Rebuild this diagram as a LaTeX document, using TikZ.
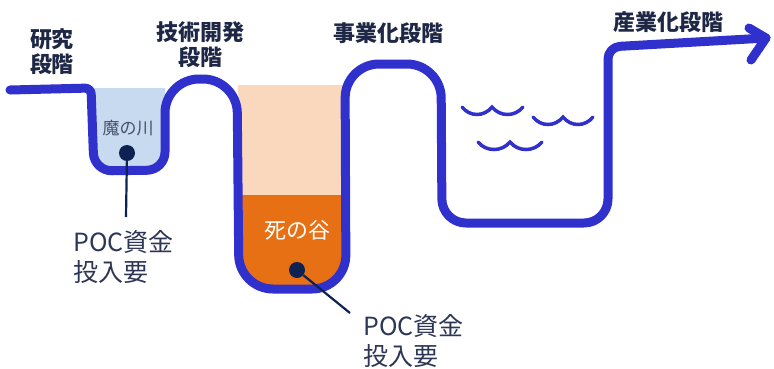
\documentclass[tikz,border=0pt]{standalone}
\usepackage{fontspec}
\setmainfont{Noto Sans CJK JP}
\definecolor{lineblue}{RGB}{48,48,205}
\definecolor{lightb}{RGB}{200,218,240}
\definecolor{peach}{RGB}{250,216,190}
\definecolor{deeporange}{RGB}{231,112,20}
\definecolor{dotnavy}{RGB}{14,34,82}
\definecolor{labeltext}{RGB}{30,40,70}
\definecolor{poctext}{RGB}{45,55,85}
\definecolor{rivertext}{RGB}{70,80,104}
\tikzset{
  curve/.style={draw=lineblue, line width=9pt, line cap=round, line join=round},
  wave/.style={draw=lineblue, line width=3.5pt, line cap=round},
  stage/.style={font=\fontsize{22}{25}\selectfont\bfseries, text=labeltext, align=center, inner sep=0pt},
  poc/.style={font=\fontsize{25}{30}\selectfont, text=poctext, align=left, inner sep=0pt, anchor=west},
  dotc/.style={circle, fill=dotnavy, minimum size=16pt, inner sep=0pt},
  stem/.style={draw=dotnavy, line width=2.2pt}
}
\begin{document}
\begin{tikzpicture}[x=1pt,y=-1pt]
\useasboundingbox[fill=white] (0,0) rectangle (774,368);
% fills
\begin{scope}
  \clip (80,88) rectangle (180,200);
  \fill[lightb, rounded corners=18pt] (92,40) -- (94,171) -- (165,170) -- (165,40) -- cycle;
\end{scope}
\begin{scope}
  \clip (230,85) rectangle (360,195);
  \fill[peach, rounded corners=34pt] (238,30) -- (239,289) -- (346,289) -- (345,30) -- cycle;
\end{scope}
\begin{scope}
  \clip (230,195) rectangle (360,310);
  \fill[deeporange, rounded corners=34pt] (238,30) -- (239,289) -- (346,289) -- (345,30) -- cycle;
\end{scope}
% main curve
\coordinate (tip) at (766,38);
\coordinate (barbA) at (749,28);
\coordinate (barbB) at (751,60);
\draw[curve] (10,90) [rounded corners=6pt] -- (91,88) [rounded corners=18pt] -- (94,171) -- (165,170)
  [rounded corners=34pt] -- (165,79) -- (237,79) -- (239,289) -- (346,289) -- (345,64) -- (441,64)
  [rounded corners=24pt] -- (442,223) -- (608,223) [rounded corners=12pt] -- (608,47) [sharp corners] -- (tip);
\draw[curve] (barbA) -- (tip) -- (barbB);
% waves
\draw[wave] (462,107) .. controls (470,117) and (484,117) .. (492,107) .. controls (500,117) and (515,117) .. (523,107);
\draw[wave] (533,117) .. controls (541,127) and (555,127) .. (563,117) .. controls (571,127) and (585,127) .. (593,117);
\draw[wave] (478,142) .. controls (486,152) and (502,152) .. (510,142) .. controls (518,152) and (534,152) .. (542,142);
% labels
\node[stage] (s1) at (52,52) {研究\\段階};
\node[stage] (s2) at (200,45) {技術開発\\段階};
\node[stage] (s3) at (388,33) {事業化段階};
\node[stage] (s4) at (668,22) {産業化段階};
\node[font=\fontsize{17}{20}\selectfont, text=rivertext, inner sep=0pt] (river) at (128,128) {魔の川};
\node[font=\fontsize{22}{25}\selectfont, text=white, inner sep=0pt] (death) at (297,230) {死の谷};
% dots and stems
\node[dotc] (d1) at (127,153) {};
\node[dotc] (d2) at (297,270) {};
\coordinate (e1) at (126,217);
\coordinate (e2) at (350,313);
\draw[stem] (d1) -- (e1);
\draw[stem] (d2) -- (e2);
\node[poc] (p1) at (73,257) {POC資金\\投入要};
\node[poc] (p2) at (363,341) {POC資金\\投入要};
\end{tikzpicture}
\end{document}
